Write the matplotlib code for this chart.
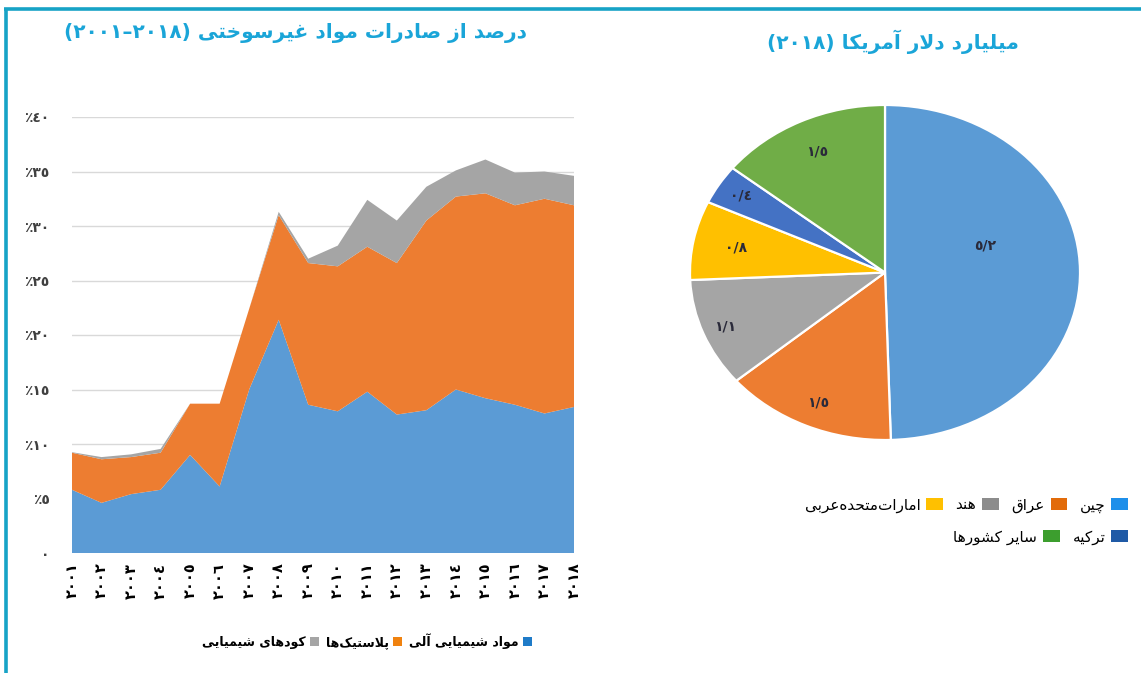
import matplotlib
matplotlib.use("Agg")
import matplotlib.pyplot as plt
from matplotlib.patches import Patch
from matplotlib.lines import Line2D
import numpy as np

# ---------------- data ----------------
years = list(range(2001, 2019))
organic = [5.8, 4.6, 5.4, 5.8, 9.0, 6.1, 15.0, 21.4, 13.6, 13.0, 14.8, 12.7, 13.1, 15.0, 14.2, 13.6, 12.8, 13.4]
plastics = [3.4, 4.0, 3.4, 3.4, 4.7, 7.6, 7.4, 9.6, 13.0, 13.3, 13.3, 13.9, 17.4, 17.7, 18.8, 18.3, 19.7, 18.5]
fertil = [0.05, 0.2, 0.25, 0.35, 0.0, 0.0, 0.0, 0.3, 0.4, 1.9, 4.3, 3.9, 3.1, 2.4, 3.1, 3.0, 2.5, 2.7]
area_names = ["مواد شیمیایی آلی", "پلاستیک‌ها", "کودهای شیمیایی"]
yticks = [0, 5, 10, 15, 20, 25, 30, 35, 40]

pie_names = ["چین", "عراق", "هند", "امارات‌متحده‌عربی", "ترکیه", "سایر کشورها"]
pie_vals = [5.2, 1.5, 1.1, 0.8, 0.4, 1.5]

title_left = "درصد از صادرات مواد غیرسوختی"
title_left_span = ("2001", "2018")
title_right = "میلیارد دلار آمریکا"
title_right_year = "2018"

# ---------------- minimal Arabic/Persian shaping ----------------
FORMS = {
    'ا': (0xFE8D, 0xFE8E, None, None), 'آ': (0xFE81, 0xFE82, None, None),
    'ب': (0xFE8F, 0xFE90, 0xFE91, 0xFE92), 'پ': (0xFB56, 0xFB57, 0xFB58, 0xFB59),
    'ت': (0xFE95, 0xFE96, 0xFE97, 0xFE98), 'ث': (0xFE99, 0xFE9A, 0xFE9B, 0xFE9C),
    'ج': (0xFE9D, 0xFE9E, 0xFE9F, 0xFEA0), 'چ': (0xFB7A, 0xFB7B, 0xFB7C, 0xFB7D),
    'ح': (0xFEA1, 0xFEA2, 0xFEA3, 0xFEA4), 'خ': (0xFEA5, 0xFEA6, 0xFEA7, 0xFEA8),
    'د': (0xFEA9, 0xFEAA, None, None), 'ذ': (0xFEAB, 0xFEAC, None, None),
    'ر': (0xFEAD, 0xFEAE, None, None), 'ز': (0xFEAF, 0xFEB0, None, None),
    'ژ': (0xFB8A, 0xFB8B, None, None),
    'س': (0xFEB1, 0xFEB2, 0xFEB3, 0xFEB4), 'ش': (0xFEB5, 0xFEB6, 0xFEB7, 0xFEB8),
    'ص': (0xFEB9, 0xFEBA, 0xFEBB, 0xFEBC), 'ض': (0xFEBD, 0xFEBE, 0xFEBF, 0xFEC0),
    'ط': (0xFEC1, 0xFEC2, 0xFEC3, 0xFEC4), 'ظ': (0xFEC5, 0xFEC6, 0xFEC7, 0xFEC8),
    'ع': (0xFEC9, 0xFECA, 0xFECB, 0xFECC), 'غ': (0xFECD, 0xFECE, 0xFECF, 0xFED0),
    'ف': (0xFED1, 0xFED2, 0xFED3, 0xFED4), 'ق': (0xFED5, 0xFED6, 0xFED7, 0xFED8),
    'ک': (0xFB8E, 0xFB8F, 0xFB90, 0xFB91), 'گ': (0xFB92, 0xFB93, 0xFB94, 0xFB95),
    'ل': (0xFEDD, 0xFEDE, 0xFEDF, 0xFEE0), 'م': (0xFEE1, 0xFEE2, 0xFEE3, 0xFEE4),
    'ن': (0xFEE5, 0xFEE6, 0xFEE7, 0xFEE8), 'و': (0xFEED, 0xFEEE, None, None),
    'ه': (0xFEE9, 0xFEEA, 0xFEEB, 0xFEEC), 'ی': (0xFBFC, 0xFBFD, 0xFBFE, 0xFBFF),
}
LAM_ALEF = {'ا': (0xFEFB, 0xFEFC), 'آ': (0xFEF5, 0xFEF6)}


def dual(c):
    return c in FORMS and FORMS[c][2] is not None


def shape(text):
    out = []
    chars = list(text)
    n = len(chars)
    i = 0
    while i < n:
        c = chars[i]
        if c == '\u200c':
            i += 1
            continue
        if c not in FORMS:
            out.append(c)
            i += 1
            continue
        prev = chars[i - 1] if i > 0 else ''
        jp = dual(prev)
        if c == 'ل' and i + 1 < n and chars[i + 1] in LAM_ALEF:
            iso, fin = LAM_ALEF[chars[i + 1]]
            out.append(chr(fin if jp else iso))
            i += 2
            continue
        nxt = chars[i + 1] if i + 1 < n else ''
        jn = dual(c) and nxt in FORMS
        iso, fin, ini, med = FORMS[c]
        if jp and jn:
            g = med
        elif jp:
            g = fin
        elif jn:
            g = ini
        else:
            g = iso
        out.append(chr(g))
        i += 1
    return ''.join(out)


def rtl(text):
    return shape(text)[::-1]


AD = str.maketrans('0123456789', '٠١٢٣٤٥٦٧٨٩')


def ad(s):
    return str(s).translate(AD)


# ---------------- figure ----------------
plt.rcParams['font.family'] = ['DejaVu Sans']
W, H = 1141, 673
fig = plt.figure(figsize=(W / 100, H / 100), dpi=100)
fig.patch.set_facecolor('white')

# outer frame (top and left)
frame_col = '#17A3C6'
fig.add_artist(Line2D([5.5 / W, 5.5 / W], [0, 1 - 9 / H], color=frame_col, lw=2.6,
                      solid_capstyle='butt', transform=fig.transFigure))
fig.add_artist(Line2D([4.2 / W, 1], [1 - 9 / H, 1 - 9 / H], color=frame_col, lw=2.6,
                      solid_capstyle='butt', transform=fig.transFigure))

# ---------------- stacked area ----------------
axL = fig.add_axes([72 / W, (H - 553) / H, (574 - 72) / W, (553 - 117) / H])
x = np.arange(len(years))
cols = ['#5B9BD5', '#ED7D31', '#A5A5A5']
axL.stackplot(x, organic, plastics, fertil, colors=cols, linewidth=0, zorder=2)
axL.set_xlim(0, len(years) - 1)
axL.set_ylim(0, 40)
axL.set_yticks(yticks)
axL.set_yticklabels([ad(v) if v == 0 else '٪' + ad(v) for v in yticks],
                    fontsize=10, color='#404040', fontweight='bold')
axL.set_xticks(x)
axL.set_xticklabels([ad(y) for y in years], rotation=90, fontsize=10.5,
                    fontweight='bold', color='black')
axL.tick_params(axis='y', length=0, pad=16)
axL.tick_params(axis='x', length=0, pad=7)
for s in axL.spines.values():
    s.set_visible(False)
axL.grid(axis='y', color='#D9D9D9', lw=1, zorder=1)
axL.set_axisbelow(True)

title_col = '#1AA5D8'
left_title = '(' + ad(title_left_span[0]) + '–' + ad(title_left_span[1]) + ') ' + rtl(title_left)
fig.text(295 / W, 1 - 33 / H, left_title,
         ha='center', va='center', fontsize=14.5, fontweight='bold', color=title_col)

leg_cols_L = ['#1F7BC8', '#F0820F', '#A5A5A5']
handlesL = [Patch(facecolor=c, edgecolor='none') for c in leg_cols_L]
labelsL = [rtl(n) for n in area_names]
fig.legend(handlesL[::-1], labelsL[::-1], loc='center', bbox_to_anchor=(367 / W, 1 - 641 / H),
           ncol=3, frameon=False, markerfirst=False, handlelength=0.75, handleheight=0.75,
           handletextpad=0.35, columnspacing=0.5, prop={'size': 9, 'weight': 'bold'})

# ---------------- pie ----------------
axP = fig.add_axes([690 / W, (H - 440) / H, 390 / W, 335 / H])
pie_cols = ['#5B9BD5', '#ED7D31', '#A5A5A5', '#FFC000', '#4472C4', '#70AD47']
wedges, _ = axP.pie(pie_vals, colors=pie_cols, startangle=90, counterclock=False,
                    wedgeprops=dict(edgecolor='white', linewidth=1.6))
axP.set_aspect('auto')
axP.set_xlim(-1, 1)
axP.set_ylim(-1, 1)
label_r = [0.54, 0.85, 0.88, 0.78, 0.87, 0.80]
label_dang = [16.5, 0, 0, 0, 0, 0]
for w, v, r, da in zip(wedges, pie_vals, label_r, label_dang):
    ang = np.deg2rad((w.theta1 + w.theta2) / 2 + da)
    txt = ad(f"{v:.1f}".replace('.', '/'))
    axP.text(r * np.cos(ang), r * np.sin(ang), txt, ha='center', va='center',
             fontsize=10, fontweight='bold', color='#2A2A3A')

right_title = '(' + ad(title_right_year) + ') ' + rtl(title_right)
fig.text(893 / W, 1 - 42 / H, right_title,
         ha='center', va='center', fontsize=14.5, fontweight='bold', color=title_col)

leg_cols_P = ['#1E8FEA', '#E26B0A', '#8C8C8C', '#FFC000', '#1F5AA6', '#3C9E2E']
hp = [Patch(facecolor=c, edgecolor='none') for c in leg_cols_P]
lp = [rtl(n) for n in pie_names]
fig.legend(hp[:4][::-1], lp[:4][::-1], loc='center right', bbox_to_anchor=(1142 / W, 1 - 505 / H),
           ncol=4, frameon=False, markerfirst=False, handlelength=1.1, handleheight=0.75,
           handletextpad=0.4, columnspacing=0.8, prop={'size': 11})
fig.legend(hp[4:][::-1], lp[4:][::-1], loc='center right', bbox_to_anchor=(1142 / W, 1 - 537 / H),
           ncol=2, frameon=False, markerfirst=False, handlelength=1.1, handleheight=0.75,
           handletextpad=0.4, columnspacing=0.8, prop={'size': 11})

fig.savefig('out.png', dpi=100, facecolor='white')
